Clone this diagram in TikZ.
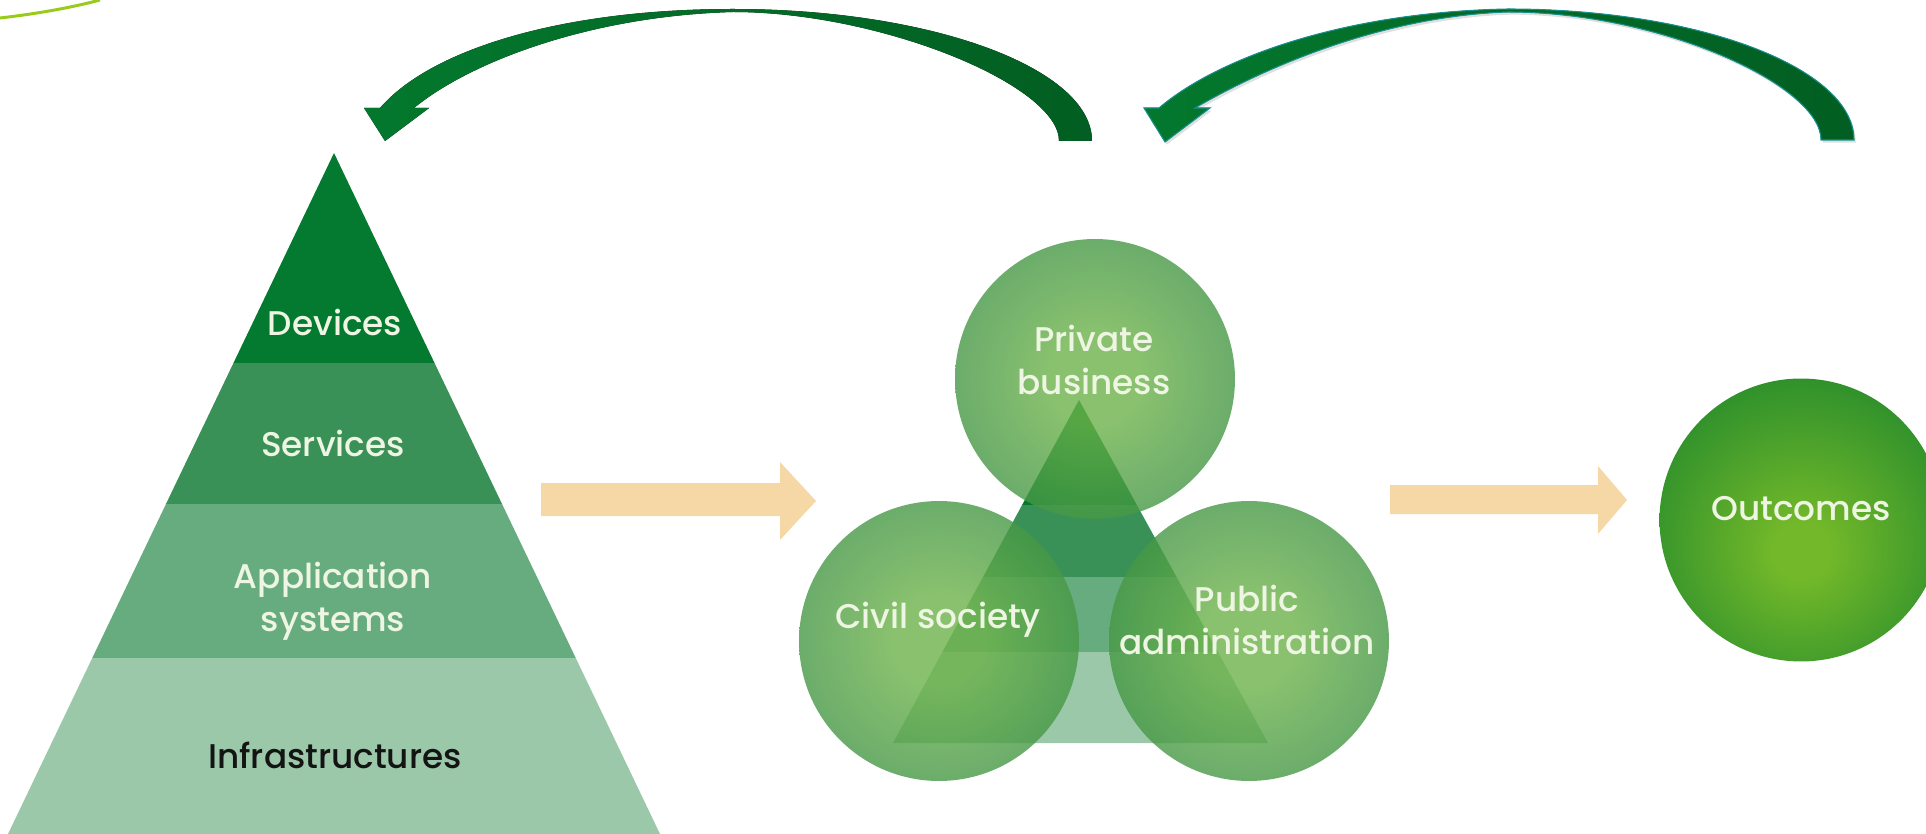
\documentclass[tikz,border=0pt]{standalone}
\usepackage{fontspec}
\setmainfont{Poppins}
\newfontfamily\labelfont{Poppins Medium}
\usetikzlibrary{shadows}

\definecolor{devgreen}{HTML}{037A30}
\definecolor{servgreen}{HTML}{3A9157}
\definecolor{appgreen}{HTML}{67AC7F}
\definecolor{infragreen}{HTML}{9AC8A9}
\definecolor{peach}{HTML}{F6D8A6}
\definecolor{arrowgreen}{HTML}{03782D}
\definecolor{arrowdark}{HTML}{025E22}
\definecolor{arrowrim}{HTML}{16908E}
\definecolor{limeline}{HTML}{9ACB1A}
\definecolor{labelcream}{HTML}{EEF5E3}
\definecolor{infratext}{HTML}{141414}
\definecolor{circlelight}{HTML}{6CB24A}
\definecolor{circledark}{HTML}{2A8543}
\definecolor{outlight}{HTML}{72B82A}
\definecolor{outdark}{HTML}{05782C}

\pgfdeclareradialshading{actorglow}{\pgfpoint{0bp}{0bp}}{color(0bp)=(circlelight); color(8bp)=(circlelight); color(38bp)=(circledark); color(72bp)=(circledark)}
\pgfdeclareradialshading{outcomeglow}{\pgfpoint{0bp}{-6bp}}{color(0bp)=(outlight); color(5bp)=(outlight); color(44bp)=(outdark); color(72bp)=(outdark)}

\begin{document}
\begin{tikzpicture}[x=0.02cm, y=-0.02cm,
    layer label/.style={text=labelcream, font=\labelfont\fontsize{19.5}{24.5}\selectfont, align=center},
    actor circle/.style={circle, minimum size=5.6cm, inner sep=0pt, shading=actorglow, fill opacity=0.8},
    outcome circle/.style={circle, minimum size=5.66cm, inner sep=0pt, shading=outcomeglow}]
        \useasboundingbox (0,0) rectangle (1926,834);
        \clip (0,0) rectangle (1926,834);

        % Pyramid
        \begin{scope}
            \clip (334,153) -- (660,834) -- (8,834) -- cycle;
            \fill[devgreen] (0,150) rectangle (700,363);
            \fill[servgreen] (0,363) rectangle (700,504);
            \fill[appgreen] (0,504) rectangle (700,658);
            \fill[infragreen] (0,658) rectangle (700,840);
        \end{scope}

        % Small pyramid
        \begin{scope}
            \clip (1079,400) -- (1268,743) -- (893,743) -- cycle;
            \fill[devgreen] (880,398) rectangle (1280,505);
            \fill[servgreen] (880,505) rectangle (1280,577);
            \fill[appgreen] (880,577) rectangle (1280,652);
            \fill[infragreen] (880,652) rectangle (1280,745);
        \end{scope}

        % Circles
        \node[actor circle] (business) at (1095,379) {};
        \node[actor circle] (civil) at (939,641) {};
        \node[actor circle] (public) at (1249,641) {};
        \node[outcome circle] (outcomes) at (1801,520) {};

        % Nodes
        \node[layer label] (devices) at (335,322) {Devices};
        \node[layer label] (services) at (333,443) {Services};
        \node[layer label] (appsys) at (333,601) {Application\\systems};
        \node[layer label, text=infratext] (infra) at (335,755) {Infrastructures};
        \node[layer label] (businesstext) at (1094,360) {Private\\business};
        \node[layer label] (civiltext) at (938,620) {Civil society};
        \node[layer label] (publictext) at (1247,620) {Public\\administration};
        \node[layer label] (outcomestext) at (1801,509) {Outcomes};

        % Flow arrows
        \fill[peach] (541,483) -- (780,483) -- (780,462) -- (816,501) -- (780,540) -- (780,516) -- (541,516) -- cycle;
        \fill[peach] (1390,485) -- (1598,485) -- (1598,466) -- (1627,500) -- (1598,534) -- (1598,514) -- (1390,514) -- cycle;

        % Feedback arrows
        \fill[left color=arrowgreen, right color=arrowdark] (1092,141) .. controls (1092,68) and (931,9) .. (733,9)
            .. controls (560,9) and (430,50) .. (380,108) -- (364,108) -- (385,141) -- (429,108) -- (414,108)
            .. controls (470,62) and (590,16) .. (733,12) .. controls (880,12) and (1059,85) .. (1059,141) -- cycle;
        \filldraw[left color=arrowgreen, right color=arrowdark, draw=arrowrim, line width=0.6pt,
            drop shadow={shadow xshift=1pt, shadow yshift=-1.5pt, opacity=0.25}]
            (1854,140) .. controls (1854,68) and (1699,9) .. (1508,9)
            .. controls (1340,12) and (1215,60) .. (1159,108) -- (1144,108) -- (1165,142) -- (1210,108) -- (1195,108)
            .. controls (1260,70) and (1380,16) .. (1508,12) .. controls (1660,12) and (1821,85) .. (1821,140) -- cycle;

        % Lime line
        \draw[limeline, line width=1.7pt] (0,18) .. controls (35,14) and (70,8) .. (100,0);
    \end{tikzpicture}
\end{document}
